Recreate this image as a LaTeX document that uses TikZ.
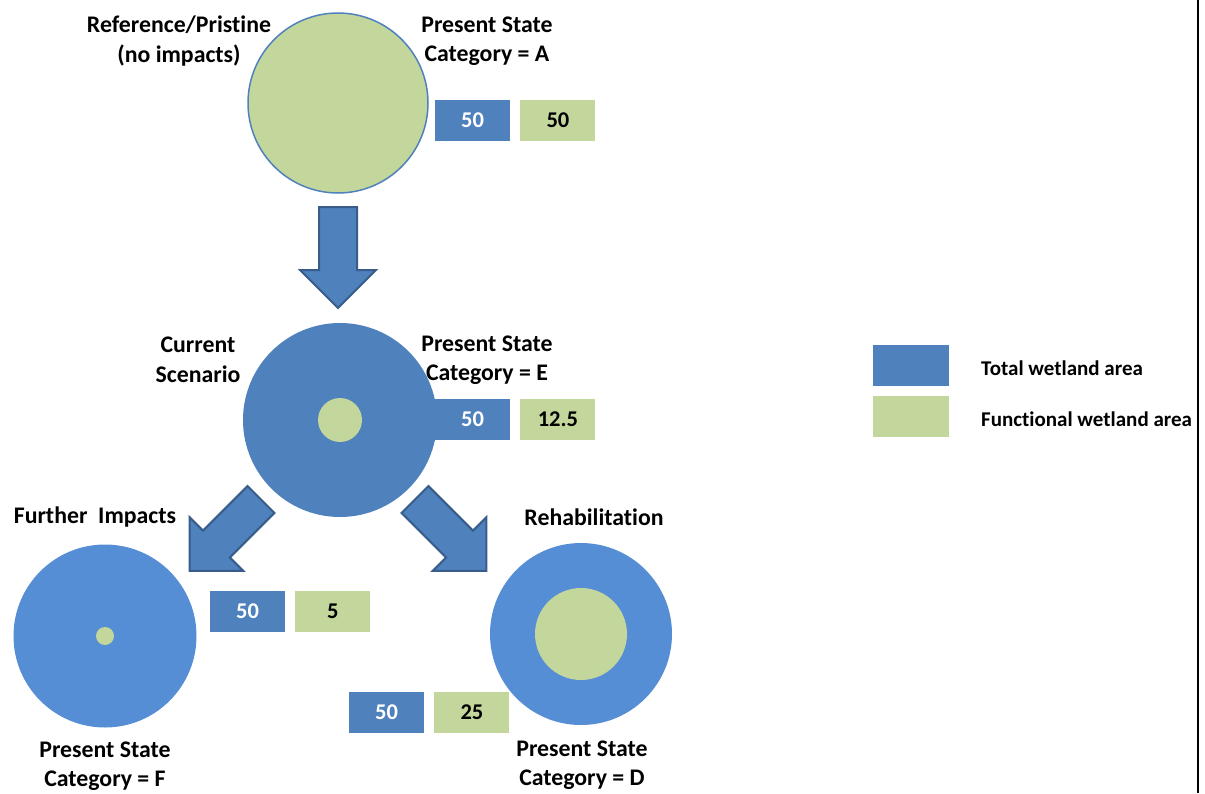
\documentclass[tikz,border=0pt]{standalone}
\usepackage{fontspec}
\setmainfont{Carlito}[Ligatures=NoCommon]
\usetikzlibrary{positioning}
\definecolor{wetblue}{HTML}{4F81BD}
\definecolor{wetlight}{HTML}{558ED5}
\definecolor{wetgreen}{HTML}{C3D69B}
\definecolor{arrowedge}{HTML}{385D8A}

\begin{document}
\begin{tikzpicture}[x=1pt, y=-1pt,
  lbl/.style={align=center, inner sep=0pt, font=\fontsize{23.8}{29.5}\selectfont\bfseries},
  legtxt/.style={anchor=west, inner sep=0pt, font=\fontsize{21}{24}\selectfont\bfseries},
  numbox/.style={minimum width=75pt, minimum height=41pt, inner sep=0pt, font=\fontsize{22.5}{26}\selectfont\bfseries},
  numblue/.style={numbox, fill=wetblue, text=white},
  numgreen/.style={numbox, fill=wetgreen, text=black},
  disc/.style={circle, inner sep=0pt, minimum size=#1},
  blockarrow/.pic={\draw[fill=wetblue, draw=arrowedge, line width=2pt, line join=miter]
    (0,-19) -- (63,-19) -- (63,-38) -- (101,0) -- (63,38) -- (63,19) -- (0,19) -- cycle;}]
\useasboundingbox (0,0) rectangle (1205,793);
\draw[line width=2.5pt] (1198,0) -- (1198,793);

\node[disc=180pt, fill=wetgreen, draw=wetblue, line width=1.5pt] (refA) at (338,103) {};
\node[lbl] (refLbl) at (179,41) {Reference/Pristine\\(no impacts)};
\node[lbl] (stateA) at (487,41) {Present State\\Category = A};
\node[numblue] (totA) at (472.5,120.5) {50};
\node[numgreen, right=10pt of totA] (funA) {50};

\pic[rotate=-90] (arrAE) at (338,207) {blockarrow};

\node[disc=194pt, fill=wetblue] (curE) at (340,420) {};
\node[disc=44pt, fill=wetgreen] (curEin) at (curE) {};
\node[lbl] (curLbl) at (198,360) {Current\\Scenario};
\node[lbl] (stateE) at (487,360) {Present State\\Category = E};
\node[numblue] (totE) at (472.5,419.5) {50};
\node[numgreen, right=10pt of totE] (funE) {12.5};

\pic[rotate=-135] (arrEF) at (261,499.5) {blockarrow};
\pic[rotate=-45] (arrED) at (415,499.5) {blockarrow};

\node[disc=183pt, fill=wetlight] (furF) at (105,636) {};
\node[disc=18pt, fill=wetgreen] (furFin) at (furF) {};
\node[lbl] (furLbl) at (95,517) {Further\ \ Impacts};
\node[lbl] (stateF) at (105,766) {Present State\\Category = F};
\node[numblue] (totF) at (247.5,611) {50};
\node[numgreen, right=10pt of totF] (funF) {5};

\node[disc=182pt, fill=wetlight] (rehD) at (581,634) {};
\node[disc=92pt, fill=wetgreen] (rehDin) at (rehD) {};
\node[lbl] (rehLbl) at (594,517) {Rehabilitation};
\node[lbl] (stateD) at (582,765) {Present State\\Category = D};
\node[numblue] (totD) at (386.5,712.5) {50};
\node[numgreen, right=10pt of totD] (funD) {25};

\node[numblue, minimum width=76pt] (legTot) at (911,365.5) {};
\node[numgreen, minimum width=76pt, below=10pt of legTot] (legFun) {};
\node[legtxt] (legTotTxt) at (981,368) {Total wetland area};
\node[legtxt] (legFunTxt) at (981,419) {Functional wetland area};
\end{tikzpicture}
\end{document}
